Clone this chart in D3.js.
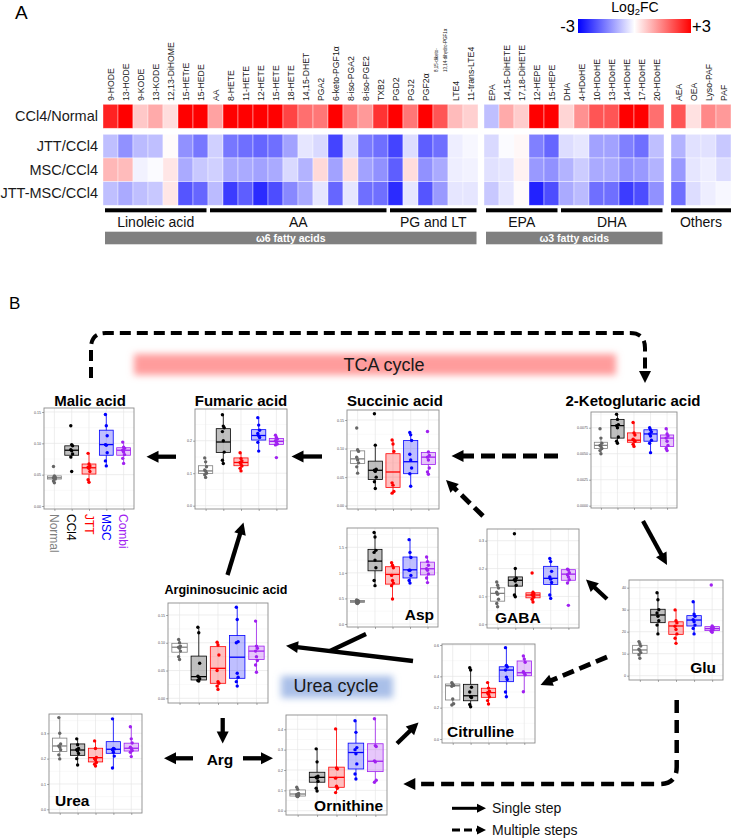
<!DOCTYPE html>
<html><head><meta charset="utf-8">
<script src="https://cdn.jsdelivr.net/npm/d3@7"></script>
<style>body{margin:0;background:#fff}svg{display:block;font-family:"Liberation Sans",Arial,sans-serif}</style>
</head><body><svg id="c" width="731" height="840"></svg>
<script>
// ---------------- DATA: heatmap ----------------
const lipidsW6 = ["9-HODE","13-HODE","9-KODE","13-KODE","12,13-DiHOME","15-HETrE","15-HEDE","AA","8-HETE","11-HETE","12-HETE","15-HETE","18-HETE","14,15-DHET","PGA2","6-keto-PGF1α","8-iso-PGA2","8-iso-PGE2","TXB2","PGD2","PGJ2","PGF2α","8,15-diketo-13,14-dihydro-PGF1α","LTE4","11-trans-LTE4"];
const lipidsW3 = ["EPA","14,15-DiHETE","17,18-DiHETE","12-HEPE","15-HEPE","DHA","4-HDoHE","10-HDoHE","13-HDoHE","14-HDoHE","17-HDoHE","20-HDoHE"];
const lipidsOther = ["AEA","OEA","Lyso-PAF","PAF"];
const comparisons = ["CCl4/Normal","JTT/CCl4","MSC/CCl4","JTT-MSC/CCl4"];
const fcCCl4Normal = [2.6,3,0.65,1.0,0.4,3,3, 1.1,3,3,3,3,2.2,1.7,1.6,3,1.6,1.2,2.4, 3,1.6,3,2.0,0.8,0.55, -0.75,1.0,0.6,3,3, 0.5,1.3,2.0,2.0,3,3,1.7, 2.0,0.35,1.4,1.2];
const fcJTT = [-0.75,-1.3,-0.8,-0.75,0.05,-1.3,-1.6, -0.55,-1.6,-1.7,-1.8,-1.7,-1.1,-0.3,-0.45,-2.2,-0.4,-1.55,-1.7, -2.2,-0.4,-1.9,-1.7,-0.2,-0.1, -0.45,-0.05,0.1,-1.5,-1.8, -0.4,-0.3,-1.1,-1.1,-1.5,-1.7,-0.75, -0.9,-0.35,-0.35,-0.65];
const fcMSC = [0.85,0.8,-0.15,-0.05,0.3,-1.0,-0.65, -0.55,-1.0,-1.0,-1.1,-1.0,-0.45,-0.9,0.45,-1.1,0.4,-1.1,-1.3, -1.9,0.4,-1.3,-1.0,-0.2,-0.15, -0.35,-0.3,0.15,-1.2,-1.3, -0.9,-0.6,-1.0,-1.0,-1.3,-1.2,-0.9, -1.2,-0.3,-0.2,-0.4];
const fcCombi = [-0.75,-1.0,-0.75,-0.65,0.3,-2.0,-1.8, -0.8,-2.3,-1.9,-2.5,-2.1,-1.4,-1.0,-0.3,-1.8,-0.3,-1.7,-1.7, -2.5,-0.3,-2.0,-1.2,-0.3,-0.3, -0.65,-0.3,0.05,-2.6,-2.1, -1.0,-0.8,-1.7,-1.7,-2.3,-2.1,-1.3, -1.7,-0.4,-0.2,-0.1];
const lipidGroups = ["Linoleic acid","AA","PG and LT","EPA","DHA","Others"];
const fattyClasses = ["ω6 fatty acids","ω3 fatty acids"];
const legendTicks = [-3, 3];

// ---------------- DATA: boxplots [lo, q1, median, q3, hi] ----------------
const groups = ["Normal","CCl4","JTT","MSC","Combi"];
const malicTicks = [0,0.05,0.10,0.15];
const malicStats = [[0.037,0.043,0.045,0.048,0.049],[0.076,0.081,0.089,0.096,0.098],[0.038,0.051,0.061,0.067,0.084],[0.064,0.081,0.098,0.121,0.146],[0.068,0.081,0.089,0.093,0.102]];
const malicPoints = [[0.063,0.048,0.046,0.045,0.044,0.043,0.040,0.037],[0.128,0.098,0.096,0.090,0.088,0.083,0.078,0.055],[0.084,0.067,0.064,0.062,0.060,0.055,0.042,0.038],[0.146,0.128,0.112,0.098,0.097,0.085,0.072,0.064],[0.102,0.094,0.092,0.089,0.086,0.082,0.076,0.068]];
const fumaricTicks = [0,0.1,0.2];
const fumaricStats = [[0.087,0.099,0.107,0.123,0.147],[0.130,0.164,0.196,0.237,0.280],[0.107,0.123,0.133,0.147,0.163],[0.168,0.202,0.216,0.234,0.271],[0.187,0.188,0.198,0.207,0.217]];
const fumaricPoints = [[0.147,0.135,0.120,0.110,0.106,0.100,0.095,0.087],[0.280,0.245,0.240,0.228,0.200,0.165,0.140,0.130],[0.163,0.145,0.138,0.133,0.128,0.122,0.115,0.107],[0.271,0.248,0.232,0.222,0.215,0.210,0.195,0.168],[0.217,0.210,0.205,0.200,0.196,0.190,0.187,0.148]];
const succinicTicks = [0,0.05,0.10,0.15];
const succinicStats = [[0.057,0.074,0.082,0.096,0.098],[0.030,0.046,0.062,0.078,0.106],[0.022,0.032,0.059,0.091,0.115],[0.034,0.056,0.077,0.114,0.128],[0.055,0.072,0.085,0.093,0.094]];
const succinicPoints = [[0.136,0.098,0.095,0.085,0.080,0.075,0.068,0.057],[0.161,0.106,0.064,0.062,0.060,0.050,0.042,0.030],[0.115,0.108,0.095,0.040,0.036,0.025,0.022],[0.128,0.124,0.114,0.090,0.080,0.066,0.056,0.034],[0.130,0.094,0.088,0.085,0.080,0.066,0.059,0.055]];
const ketoTicks = [0,0.0025,0.005,0.0075];
const ketoStats = [[0.0050,0.0055,0.0058,0.0061,0.0065],[0.0060,0.0065,0.0077,0.0083,0.0088],[0.0057,0.0061,0.0063,0.0070,0.0080],[0.0051,0.0062,0.0069,0.0073,0.0075],[0.0053,0.0057,0.0065,0.0068,0.0074]];
const ketoPoints = [[0.0074,0.0065,0.0060,0.0058,0.0057,0.0055,0.0053,0.0050],[0.0088,0.0083,0.0078,0.0077,0.0075,0.0066,0.0062,0.0060],[0.0080,0.0070,0.0068,0.0064,0.0063,0.0062,0.0059,0.0057],[0.0075,0.0073,0.0071,0.0069,0.0067,0.0063,0.0060,0.0051],[0.0074,0.0069,0.0067,0.0065,0.0062,0.0058,0.0055,0.0053]];
const aspTicks = [0,0.5,1.0,1.5];
const aspStats = [[0.40,0.42,0.445,0.46,0.47],[0.75,1.04,1.23,1.46,1.79],[0.49,0.78,0.97,1.12,1.20],[0.80,0.90,1.06,1.31,1.65],[0.81,0.96,1.08,1.21,1.31]];
const aspPoints = [[0.47,0.46,0.45,0.44,0.43,0.42,0.41,0.40],[1.79,1.70,1.44,1.40,1.25,1.10,0.85,0.75],[1.20,1.15,1.10,0.95,0.85,0.80,0.75,0.49],[1.65,1.40,1.30,1.05,1.05,0.95,0.85,0.80],[1.31,1.22,1.15,1.08,1.05,0.98,0.90,0.81]];
const gabaTicks = [0,0.1,0.2,0.3];
const gabaStats = [[0.063,0.083,0.111,0.131,0.152],[0.099,0.137,0.158,0.170,0.200],[0.080,0.095,0.105,0.113,0.120],[0.093,0.143,0.165,0.208,0.236],[0.148,0.158,0.180,0.196,0.198]];
const gabaPoints = [[0.152,0.140,0.130,0.115,0.108,0.090,0.075,0.063],[0.325,0.200,0.165,0.160,0.155,0.140,0.105,0.099],[0.184,0.115,0.110,0.106,0.103,0.098,0.090,0.080],[0.236,0.225,0.190,0.170,0.162,0.150,0.105,0.093],[0.198,0.195,0.185,0.178,0.170,0.160,0.148,0.068]];
const gluTicks = [0,10,20,30,40];
const gluStats = [[7.9,10.2,11.7,13.8,15.5],[19.0,24.1,27.6,30.2,37.7],[14.7,18.8,22.6,24.5,29.9],[19.0,22.6,25.3,27.3,33.6],[19.7,20.5,21.4,22.3,22.6]];
const gluPoints = [[15.5,14.5,13.5,12.0,11.5,10.5,9.5,7.9],[37.7,34.5,30.0,28.5,27.0,25.0,23.0,19.0],[29.9,25.0,24.0,22.5,21.0,19.0,17.0,14.7],[33.6,28.0,27.0,25.5,24.5,23.0,21.5,19.0],[41.2,22.6,22.0,21.5,21.2,20.8,20.2,19.7]];
const citrullineTicks = [0,0.2,0.4,0.6];
const citrullineStats = [[0.217,0.249,0.340,0.351,0.359],[0.206,0.244,0.276,0.349,0.455],[0.223,0.266,0.296,0.324,0.360],[0.270,0.366,0.440,0.461,0.583],[0.302,0.404,0.423,0.498,0.530]];
const citrullinePoints = [[0.359,0.350,0.342,0.336,0.255,0.225,0.217],[0.455,0.440,0.330,0.300,0.270,0.265,0.220,0.206],[0.360,0.325,0.305,0.295,0.285,0.270,0.245,0.223],[0.583,0.470,0.460,0.440,0.395,0.380,0.300,0.270],[0.530,0.510,0.490,0.430,0.420,0.410,0.302]];
const argininoTicks = [0,0.05,0.10,0.15];
const argininoStats = [[0.070,0.083,0.092,0.099,0.106],[0.031,0.033,0.039,0.076,0.128],[0.016,0.027,0.054,0.093,0.101],[0.022,0.036,0.074,0.113,0.164],[0.047,0.070,0.085,0.094,0.139]];
const argininoPoints = [[0.106,0.100,0.094,0.092,0.090,0.085,0.075,0.070],[0.128,0.118,0.063,0.040,0.038,0.035,0.032,0.031],[0.101,0.096,0.078,0.050,0.030,0.027,0.022,0.016],[0.164,0.142,0.102,0.100,0.045,0.038,0.030,0.022],[0.139,0.094,0.090,0.085,0.075,0.068,0.060,0.047]];
const ureaTicks = [0,0.1,0.2,0.3];
const ureaStats = [[0.199,0.228,0.250,0.281,0.362],[0.175,0.213,0.234,0.258,0.278],[0.171,0.187,0.204,0.241,0.270],[0.163,0.221,0.237,0.267,0.357],[0.208,0.230,0.241,0.261,0.326]];
const ureaPoints = [[0.362,0.300,0.258,0.250,0.245,0.235,0.215,0.199],[0.278,0.255,0.240,0.235,0.230,0.220,0.200,0.175],[0.270,0.240,0.205,0.200,0.195,0.185,0.178,0.171],[0.357,0.240,0.238,0.235,0.225,0.210,0.163],[0.326,0.278,0.262,0.245,0.240,0.232,0.225,0.208]];
const ornithineTicks = [0,0.1,0.2,0.3,0.4];
const ornithineStats = [[0.069,0.072,0.082,0.102,0.115],[0.097,0.140,0.164,0.189,0.304],[0.089,0.115,0.164,0.214,0.402],[0.156,0.205,0.286,0.332,0.442],[0.140,0.192,0.243,0.329,0.452]];
const ornithinePoints = [[0.115,0.105,0.085,0.080,0.078,0.075,0.072,0.069],[0.304,0.240,0.170,0.165,0.160,0.145,0.110,0.097],[0.402,0.210,0.205,0.160,0.120,0.110,0.089],[0.442,0.385,0.310,0.300,0.280,0.230,0.180,0.156],[0.452,0.320,0.315,0.245,0.240,0.150,0.140]];

// ---------------- STYLE ----------------
const gStroke = ["#7f7f7f","#000000","#ff0000","#0000ff","#a020f0"];
const gFill = ["#ffffff","#808080","#ff0000","#0000ff","#a020f0"];
const gFillOp = [1,0.5,0.25,0.25,0.25];
const gPoint = ["#666666","#000000","#ff0000","#0000ff","#a020f0"];

const svg = d3.select("#c");
const defs = svg.append("defs");

// ============ PANEL A ============
svg.append("text").attr("x",15).attr("y",19).attr("font-size",19).text("A");

const color = d3.scaleLinear().domain([-3,0,3]).range(["#0000ff","#ffffff","#ff0000"]).clamp(true);
const blocks = [
  {labels:lipidsW6, range:[103,478], off:0},
  {labels:lipidsW3, range:[484,664], off:25},
  {labels:lipidsOther, range:[671,731], off:37}
];
const fcRows = [fcCCl4Normal, fcJTT, fcMSC, fcCombi];
const yTreat = d3.scaleBand().domain(comparisons.slice(1)).range([134.3,205.3]);
const rowPos = r => r===0 ? {y:104.3,h:24} : {y:yTreat(comparisons[r]), h:yTreat.bandwidth()};
const hm = svg.append("g");
blocks.forEach(b=>{
  const x = d3.scaleBand().domain(b.labels).range(b.range);
  b.x = x;
  comparisons.forEach((c,r)=>{
    const rp = rowPos(r);
    hm.selectAll(null).data(b.labels).enter().append("rect")
      .attr("x",d=>x(d)).attr("y",rp.y).attr("width",x.bandwidth()).attr("height",rp.h)
      .attr("fill",(d,i)=>color(fcRows[r][b.off+i]))
      .attr("stroke","#ffffff").attr("stroke-width",0.7).attr("stroke-opacity",0.55);
  });
  b.labels.forEach(d=>{
    const cx = x(d)+x.bandwidth()/2;
    if(d.startsWith("8,15-diketo")){
      const parts = ["8,15-diketo-","13,14-dihydro-PGF1α"];
      parts.forEach((t,k)=>{
        svg.append("text").attr("transform",`translate(${cx-4+k*8.5},72) rotate(-90)`)
          .attr("dy","0.35em").attr("font-size",4.5).attr("fill","#222").text(t);
      });
    } else {
      svg.append("text").attr("transform",`translate(${cx},101) rotate(-90)`)
        .attr("dy","0.35em").attr("font-size",8.7).attr("fill","#222").text(d);
    }
  });
});
comparisons.forEach((c,r)=>{
  const rp = rowPos(r);
  svg.append("text").attr("x",98).attr("y",rp.y+rp.h/2+5).attr("text-anchor","end")
    .attr("font-size",14.5).attr("fill","#1a1a1a").text(c);
});
const grpSpans = [
  [blocks[0],0,6],[blocks[0],7,18],[blocks[0],19,24],[blocks[1],0,4],[blocks[1],5,11],[blocks[2],0,3]
];
grpSpans.forEach(([b,i0,i1],k)=>{
  const xa = b.x(b.labels[i0]) + (k===5?0:2), xb = b.x(b.labels[i1]) + b.x.bandwidth() - (k===5?0:1.5);
  svg.append("rect").attr("x",xa).attr("y",208.3).attr("width",xb-xa).attr("height",4).attr("fill","#000");
  svg.append("text").attr("x",(xa+xb)/2).attr("y",226.7).attr("text-anchor","middle")
    .attr("font-size",14).attr("fill","#111").text(lipidGroups[k]);
});
[[blocks[0],0,24],[blocks[1],0,11]].forEach(([b,i0,i1],k)=>{
  const xa = b.x(b.labels[i0])+2, xb = b.x(b.labels[i1])+b.x.bandwidth()-1.5;
  svg.append("rect").attr("x",xa).attr("y",231.7).attr("width",xb-xa).attr("height",12.6).attr("fill","#808080");
  svg.append("text").attr("x",(xa+xb)/2).attr("y",241.8).attr("text-anchor","middle")
    .attr("font-size",10.5).attr("font-weight","bold").attr("fill","#fff").text(fattyClasses[k]);
});
const lg = defs.append("linearGradient").attr("id","lg");
[[0,"#0000ff"],[0.5,"#ffffff"],[1,"#ff0000"]].forEach(([o,c])=>lg.append("stop").attr("offset",o).attr("stop-color",c));
const legX = d3.scaleLinear().domain(legendTicks).range([578,691]);
svg.append("rect").attr("x",legX(-3)).attr("y",19).attr("width",legX(3)-legX(-3)).attr("height",14).attr("fill","url(#lg)");
svg.append("text").attr("x",legX(-3)-3).attr("y",32).attr("text-anchor","end").attr("font-size",16.5).text("-"+Math.abs(legendTicks[0]));
svg.append("text").attr("x",legX(3)+1).attr("y",32).attr("font-size",16.5).text("+"+legendTicks[1]);
const lt = svg.append("text").attr("x",635).attr("y",12).attr("text-anchor","middle").attr("font-size",14);
lt.append("tspan").text("Log");
lt.append("tspan").attr("font-size",9.5).attr("dy",3).text("2");
lt.append("tspan").attr("dy",-3).text("FC");

// ============ PANEL B ============
svg.append("text").attr("x",9).attr("y",309).attr("font-size",17).text("B");

const f1 = defs.append("filter").attr("id","blur").attr("x","-20%").attr("y","-100%").attr("width","140%").attr("height","300%");
f1.append("feGaussianBlur").attr("stdDeviation",3.5);
svg.append("rect").attr("x",134).attr("y",354).attr("width",482).attr("height",21).attr("fill","#ff9c9c").attr("filter","url(#blur)");
svg.append("text").attr("x",384).attr("y",371).attr("text-anchor","middle").attr("font-size",18).attr("fill","#1a1a1a").text("TCA cycle");
svg.append("rect").attr("x",281).attr("y",676).attr("width",112).attr("height",22).attr("fill","#a9bfe8").attr("filter","url(#blur)");
svg.append("text").attr("x",336).attr("y",691.5).attr("text-anchor","middle").attr("font-size",18).attr("fill","#1a1a1a").text("Urea cycle");

const panels = [
 {stats:malicStats,pts:malicPoints,ticks:malicTicks,fmt:".2f",box:[44,408,134,509],cal:[0,506,0.15,412],title:["Malic acid",90,406,15],xlab:true},
 {stats:fumaricStats,pts:fumaricPoints,ticks:fumaricTicks,fmt:".1f",box:[195,409,287,509],cal:[0,505.7,0.2,440.7],title:["Fumaric acid",241,406,15]},
 {stats:succinicStats,pts:succinicPoints,ticks:succinicTicks,fmt:".2f",box:[347,410,439,509],cal:[0,505.7,0.15,420],title:["Succinic acid",395,406,15]},
 {stats:ketoStats,pts:ketoPoints,ticks:ketoTicks,fmt:".4f",box:[591,412,677,508],cal:[0,505.7,0.0075,427.7],title:["2-Ketoglutaric acid",633,406,15]},
 {stats:aspStats,pts:aspPoints,ticks:aspTicks,fmt:".1f",box:[347,528,438,627],cal:[0,624,1.5,547.3],label:["Asp",434,620,"end"]},
 {stats:gabaStats,pts:gabaPoints,ticks:gabaTicks,fmt:".1f",box:[487,529,579,628],cal:[0,624.3,0.3,540.7],label:["GABA",495,623,"start"]},
 {stats:gluStats,pts:gluPoints,ticks:gluTicks,fmt:"d",box:[629,580,723,680],cal:[0,675.7,40,587.7],label:["Glu",716,673,"end"]},
 {stats:citrullineStats,pts:citrullinePoints,ticks:citrullineTicks,fmt:".1f",box:[442,644,535,743],cal:[0,739,0.6,645],label:["Citrulline",447,737,"start"]},
 {stats:argininoStats,pts:argininoPoints,ticks:argininoTicks,fmt:".2f",box:[168,603,268,703],cal:[0,698.3,0.15,615],title:["Argininosucinic acid",226,594,12.5]},
 {stats:ureaStats,pts:ureaPoints,ticks:ureaTicks,fmt:".1f",box:[49,714,142,813],cal:[0,809.3,0.3,733.3],label:["Urea",55,806,"start"]},
 {stats:ornithineStats,pts:ornithinePoints,ticks:ornithineTicks,fmt:".1f",box:[286,715,387,815],cal:[0,810.7,0.4,729.3],label:["Ornithine",383,811,"end"]}
];
let clipId=0;
panels.forEach(p=>{
  const [L,T,R,B] = p.box;
  const g = svg.append("g");
  const y = d3.scaleLinear().domain([p.cal[0],p.cal[2]]).range([p.cal[1],p.cal[3]]);
  const x = d3.scalePoint().domain(groups).range([L,R]).padding(0.6);
  const step = x.step(), bw = step*0.8;
  const id = "cp"+(clipId++);
  defs.append("clipPath").attr("id",id).append("rect").attr("x",L).attr("y",T).attr("width",R-L).attr("height",B-T);
  const gg = g.append("g").attr("clip-path",`url(#${id})`);
  const d = p.ticks[1]-p.ticks[0];
  const minor = [p.ticks[0]-d/2, ...p.ticks.map(t=>t+d/2)];
  gg.selectAll(null).data(minor).enter().append("line").attr("x1",L).attr("x2",R)
    .attr("y1",v=>y(v)).attr("y2",v=>y(v)).attr("stroke","#f2f2f2").attr("stroke-width",0.5);
  gg.selectAll(null).data(p.ticks).enter().append("line").attr("x1",L).attr("x2",R)
    .attr("y1",v=>y(v)).attr("y2",v=>y(v)).attr("stroke","#e6e6e6").attr("stroke-width",0.7);
  gg.selectAll(null).data(groups).enter().append("line").attr("y1",T).attr("y2",B)
    .attr("x1",v=>x(v)).attr("x2",v=>x(v)).attr("stroke","#e6e6e6").attr("stroke-width",0.7);
  const ya = g.append("g").attr("transform",`translate(${L},0)`)
    .call(d3.axisLeft(y).tickValues(p.ticks).tickFormat(d3.format(p.fmt)).tickSize(1.8).tickPadding(1.2));
  ya.select(".domain").remove();
  ya.selectAll("line").attr("stroke","#333").attr("stroke-width",0.5);
  ya.selectAll("text").attr("font-size",3.6).attr("fill","#4d4d4d").attr("font-family","Liberation Sans, Arial");
  const xa = g.append("g").attr("transform",`translate(0,${B})`)
    .call(d3.axisBottom(x).tickSize(1.8).tickFormat(""));
  xa.select(".domain").remove();
  xa.selectAll("line").attr("stroke","#333").attr("stroke-width",0.5);
  groups.forEach((gr,i)=>{
    const s = p.stats[i], cx = x(gr);
    g.append("line").attr("x1",cx).attr("x2",cx).attr("y1",y(s[0])).attr("y2",y(s[1])).attr("stroke",gStroke[i]).attr("stroke-width",0.8);
    g.append("line").attr("x1",cx).attr("x2",cx).attr("y1",y(s[3])).attr("y2",y(s[4])).attr("stroke",gStroke[i]).attr("stroke-width",0.8);
    g.append("rect").attr("x",cx-bw/2).attr("y",y(s[3])).attr("width",bw).attr("height",Math.max(0.5,y(s[1])-y(s[3])))
      .attr("fill",gFill[i]).attr("fill-opacity",gFillOp[i]).attr("stroke",gStroke[i]).attr("stroke-width",0.8);
    g.append("line").attr("x1",cx-bw/2).attr("x2",cx+bw/2).attr("y1",y(s[2])).attr("y2",y(s[2])).attr("stroke",gStroke[i]).attr("stroke-width",1.3);
    g.selectAll(null).data(p.pts[i]).enter().append("circle")
      .attr("cx",(v,j)=>cx+((j%3)-1)*0.9).attr("cy",v=>y(v)).attr("r",1.7).attr("fill",gPoint[i]);
  });
  g.append("rect").attr("x",L).attr("y",T).attr("width",R-L).attr("height",B-T).attr("fill","none").attr("stroke","#8c8c8c").attr("stroke-width",0.9);
  if(p.title) g.append("text").attr("x",p.title[1]).attr("y",p.title[2]).attr("text-anchor","middle")
    .attr("font-size",p.title[3]).attr("font-weight","bold").attr("fill","#000").text(p.title[0]);
  if(p.label) g.append("text").attr("x",p.label[1]).attr("y",p.label[2]).attr("text-anchor",p.label[3])
    .attr("font-size",15.5).attr("font-weight","bold").attr("fill","#000").text(p.label[0]);
  if(p.xlab){
    groups.forEach((gr,i)=>{
      g.append("text").attr("transform",`translate(${x(gr)},514) rotate(90)`).attr("dy","0.35em")
        .attr("font-size",12).attr("fill",gStroke[i]).text(gr);
    });
  }
});

// Arg node label
svg.append("text").attr("x",220).attr("y",765).attr("text-anchor","middle").attr("font-size",15.5).attr("font-weight","bold").attr("fill","#000").text("Arg");

// ---------------- arrows ----------------
const ar = svg.append("g");
function head(x2,y2,ux,uy,hl,hw){
  const bx=x2-ux*hl, by=y2-uy*hl;
  ar.append("path").attr("d",`M${x2},${y2}L${bx-uy*hw/2},${by+ux*hw/2}L${bx+uy*hw/2},${by-ux*hw/2}Z`).attr("fill","#000");
}
function arrow(x1,y1,x2,y2,dashed,sw=4.3,hl=12,hw=12){
  const dx=x2-x1, dy=y2-y1, L=Math.hypot(dx,dy), ux=dx/L, uy=dy/L;
  const ex=x2-ux*(hl-1), ey=y2-uy*(hl-1);
  ar.append("line").attr("x1",x1).attr("y1",y1).attr("x2",ex).attr("y2",ey).attr("stroke","#000")
    .attr("stroke-width",sw).attr("stroke-dasharray",dashed?dashed:null);
  head(x2,y2,ux,uy,hl,hw);
}
arrow(176,456.7,146.5,456.7,false);
arrow(322,456.5,291.5,456.5,false);
arrow(558,456,451.5,456,"14,7",4.8);
arrow(483,516,446,480,"12,6",4.8);
arrow(643,521,667,565,false);
arrow(607,599,586,579.5,false);
arrow(607,657,540.5,685,"12,6",4.8);
arrow(227.5,575,243.5,522.5,false);
arrow(413,661,286,645.7,false);
ar.append("line").attr("x1",366).attr("y1",634).attr("x2",330).attr("y2",651).attr("stroke","#000").attr("stroke-width",4.3);
arrow(222.7,718,222.7,743.5,false);
arrow(193,758.3,164,758.3,false);
arrow(243,758.3,273,758.3,false);
arrow(397,743.5,418.5,722.5,false);
ar.append("path").attr("d","M676.7,700L676.7,767Q676.7,784 659.7,784L415,784").attr("fill","none")
  .attr("stroke","#000").attr("stroke-width",4.5).attr("stroke-dasharray","13,7");
head(403.3,784,-1,0,12,12);
ar.append("path").attr("d","M91,378L91,348Q91,333 106,333L630,333Q645,333 645,348L645,372").attr("fill","none")
  .attr("stroke","#000").attr("stroke-width",4).attr("stroke-dasharray","11,6");
head(645,383,0,1,12,12);
arrow(452,808.3,486,808.3,false,3,9,9);
arrow(452,830,486,830,"8,4",3,9,9);
svg.append("text").attr("x",492).attr("y",813).attr("font-size",14).attr("fill","#111").text("Single step");
svg.append("text").attr("x",492).attr("y",834.5).attr("font-size",14).attr("fill","#111").text("Multiple steps");
</script></body></html>
